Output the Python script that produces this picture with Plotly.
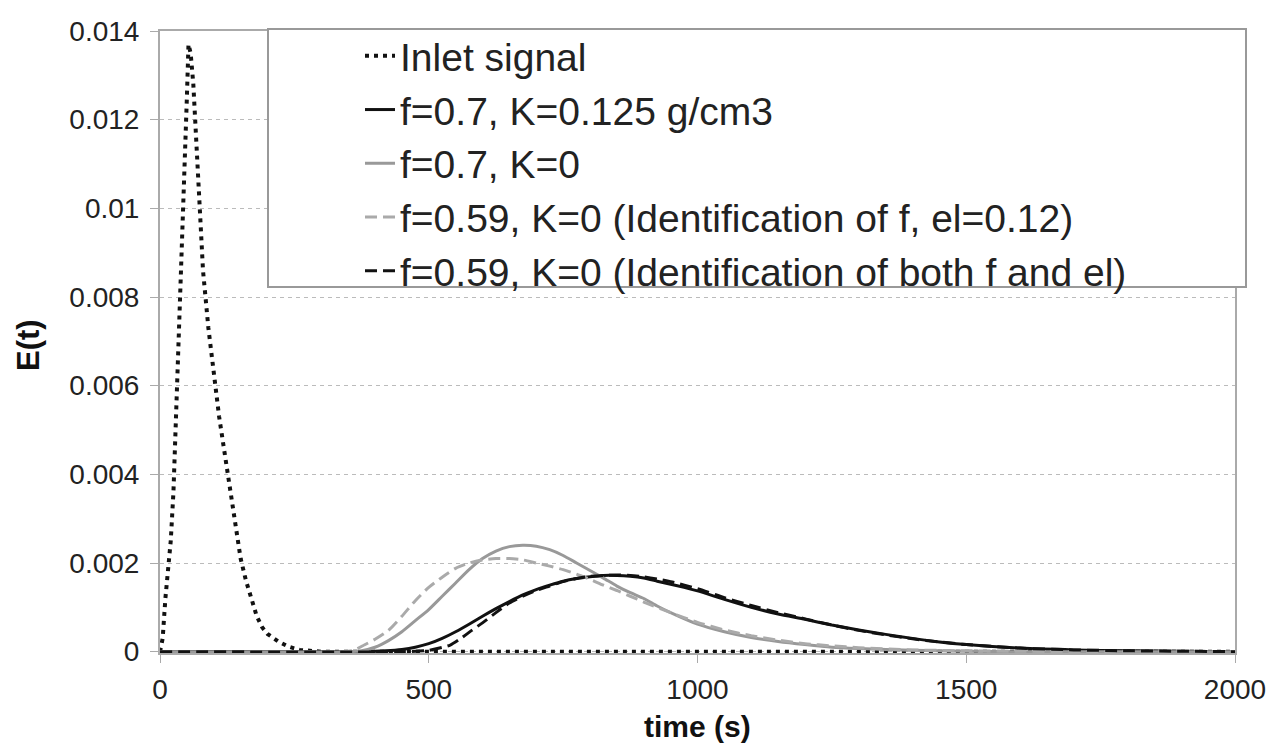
import plotly.graph_objects as go

# ---------------- data ----------------
inlet_t = [0, 5, 10, 15, 20, 25, 30, 35, 40, 45, 50, 53, 57, 62, 68, 73, 80, 90, 100, 110,
           120, 130, 140, 150, 160, 170, 180, 190, 200, 220, 240, 260, 280, 300, 400, 600,
           800, 1000, 1200, 1400, 1600, 1800, 2000]
inlet_e = [0, 0.0003, 0.0012, 0.0019, 0.0025, 0.0036, 0.0053, 0.0068, 0.0085, 0.0105, 0.0125,
           0.0137, 0.0135, 0.0128, 0.0115, 0.0103, 0.0086, 0.0073, 0.0062, 0.0053,
           0.0045, 0.0037, 0.0028, 0.0021, 0.0016, 0.0012, 0.0008, 0.00055, 0.0004, 0.00023,
           0.00011, 0.00004, 0.00001, 0, 0, 0, 0, 0, 0, 0, 0, 0, 0]

k125_t = [0, 380, 420, 450, 475, 500, 525, 550, 575, 600, 625, 650, 675, 700, 725, 750, 775,
          800, 825, 850, 875, 900, 925, 950, 975, 1000, 1050, 1100, 1150, 1200, 1250, 1300,
          1350, 1400, 1450, 1500, 1600, 1700, 1800, 1900, 2000]
k125_e = [0, 0, 0.00002, 0.00005, 0.0001, 0.00018, 0.0003, 0.00045, 0.00062, 0.0008, 0.00097,
          0.00113, 0.00128, 0.0014, 0.0015, 0.00159, 0.00165, 0.00169, 0.00172, 0.00172,
          0.0017, 0.00166, 0.00159, 0.00152, 0.00145, 0.00137, 0.00118, 0.001, 0.00085,
          0.00073, 0.0006, 0.00049, 0.00039, 0.0003, 0.00022, 0.00016, 0.00008, 0.00004,
          0.00002, 0.00001, 0]

k0_t = [0, 350, 375, 400, 425, 450, 475, 500, 525, 550, 575, 600, 625, 650, 675, 700, 725,
        750, 775, 800, 825, 850, 875, 900, 925, 950, 1000, 1050, 1100, 1150, 1200, 1250, 1300,
        1400, 1500, 1600, 2000]
k0_e = [0, 0, 0.00002, 0.0001, 0.00025, 0.00045, 0.0007, 0.00095, 0.00125, 0.00155, 0.00185,
        0.0021, 0.00227, 0.00237, 0.0024, 0.00238, 0.0023, 0.00217, 0.002, 0.00183, 0.00166,
        0.00148, 0.00133, 0.0012, 0.00103, 0.00088, 0.00062, 0.00045, 0.00032, 0.00023,
        0.00016, 0.0001, 0.00007, 0.00003, 0.00001, 0, 0]

f059_t = [0, 340, 360, 380, 400, 425, 450, 475, 500, 525, 550, 575, 600, 625, 650, 675, 700,
          725, 750, 775, 800, 825, 850, 875, 900, 950, 1000, 1050, 1100, 1150, 1200, 1250,
          1300, 1400, 1500, 1600, 1700, 2000]
f059_e = [0, 0, 0.00003, 0.00015, 0.00028, 0.00048, 0.0008, 0.00115, 0.00145, 0.00168, 0.00188,
          0.002, 0.00207, 0.0021, 0.0021, 0.00207, 0.002, 0.00193, 0.00185, 0.00175, 0.00163,
          0.0015, 0.00138, 0.00125, 0.00112, 0.00088, 0.00066, 0.00049, 0.00036, 0.00026,
          0.00018, 0.00013, 0.00009, 0.00004, 0.00002, 0.00001, 0, 0]

both_t = [0, 450, 500, 540, 560, 580, 600, 625, 650, 675, 700, 725, 750, 775, 800, 825, 850,
          875, 900, 925, 950, 1000, 1050, 1100, 1150, 1200, 1250, 1300, 1350, 1400, 1450, 1500,
          1600, 1700, 1800, 1900, 2000]
both_e = [0, 0, 0.00003, 0.00015, 0.0003, 0.00048, 0.00065, 0.00088, 0.0011, 0.00125, 0.00138,
          0.00148, 0.00158, 0.00165, 0.0017, 0.00172, 0.00173, 0.00172, 0.00169, 0.00164,
          0.00158, 0.00142, 0.00122, 0.00104, 0.00088, 0.00074, 0.0006, 0.00048, 0.00038,
          0.00029, 0.00022, 0.00016, 0.00008, 0.00004, 0.00002, 0.00001, 0]

names = ["Inlet signal",
         "f=0.7, K=0.125 g/cm3",
         "f=0.7, K=0",
         "f=0.59, K=0 (Identification of f, el=0.12)",
         "f=0.59, K=0 (Identification of both f and el)"]

y_tickvals = [0, 0.002, 0.004, 0.006, 0.008, 0.01, 0.012, 0.014]
y_ticktext = ["0", "0.002", "0.004", "0.006", "0.008", "0.01", "0.012", "0.014"]
x_tickvals = [0, 500, 1000, 1500, 2000]
x_ticktext = ["0", "500", "1000", "1500", "2000"]

# ---------------- figure ----------------
FONT = "Liberation Sans, Arial, sans-serif"
fig = go.Figure()

fig.add_trace(go.Scatter(x=inlet_t, y=inlet_e, mode="lines", name=names[0],
                         line=dict(color="#111111", width=4, dash="4px,5px")))
fig.add_trace(go.Scatter(x=k125_t, y=k125_e, mode="lines", name=names[1],
                         line=dict(color="#111111", width=3, shape="spline", smoothing=0.6)))
fig.add_trace(go.Scatter(x=k0_t, y=k0_e, mode="lines", name=names[2],
                         line=dict(color="#999999", width=3, shape="spline", smoothing=0.6)))
fig.add_trace(go.Scatter(x=f059_t, y=f059_e, mode="lines", name=names[3],
                         line=dict(color="#aaaaaa", width=3, dash="12px,6px",
                                   shape="spline", smoothing=0.6)))
fig.add_trace(go.Scatter(x=both_t, y=both_e, mode="lines", name=names[4],
                         line=dict(color="#111111", width=3, dash="12px,6px",
                                   shape="spline", smoothing=0.6)))

# page body has an 8px margin: the figure starts at (8, 8) in the window
OFF = 8
W, H = 1274 - OFF, 751 - OFF
L, R, T, B = 160 - OFF, 39, 31 - OFF, 98
pw, ph = W - L - R, H - T - B

def px_x(p):
    return (p - OFF - L) / pw

def px_y(p):
    return (H - B - (p - OFF)) / ph

fig.update_layout(
    width=W, height=H,
    margin=dict(l=L, r=R, t=T, b=B, pad=0, autoexpand=False),
    paper_bgcolor="white", plot_bgcolor="white",
    font=dict(family=FONT, color="#222222", size=28),
    showlegend=True,
    legend=dict(xref="container", yref="container",
                x=(360 - OFF) / W, y=1 - (24 - OFF) / H, xanchor="left", yanchor="top",
                bgcolor="rgba(0,0,0,0)", borderwidth=0,
                font=dict(family=FONT, size=39, color="#222222"),
                itemwidth=30, tracegroupgap=0),
    xaxis=dict(range=[0, 2000], tickvals=x_tickvals, ticktext=x_ticktext,
               showgrid=False, zeroline=False, showline=True, linecolor="#aaaaaa",
               linewidth=2, mirror=True, ticks="outside", ticklen=8, tickcolor="#aaaaaa",
               tickwidth=1, ticklabelstandoff=2, automargin=False,
               tickfont=dict(family=FONT, size=28, color="#222222")),
    yaxis=dict(range=[-0.00003, 0.014], tickvals=y_tickvals, ticktext=y_ticktext,
               showgrid=True, gridcolor="#bbbbbb", griddash="4px,4px", gridwidth=1,
               zeroline=False, showline=True, linecolor="#aaaaaa", linewidth=2,
               mirror=True, ticks="outside", ticklen=8, tickcolor="#aaaaaa", tickwidth=1,
               ticklabelstandoff=5, automargin=False,
               tickfont=dict(family=FONT, size=28, color="#222222")),
    shapes=[dict(type="rect", xref="paper", yref="paper",
                 x0=px_x(268), x1=px_x(1246), y0=px_y(287), y1=px_y(29),
                 line=dict(color="#999999", width=2), fillcolor="white", layer="above")],
    annotations=[
        dict(text="<b>time (s)</b>", xref="paper", yref="paper", x=0.5, y=px_y(726),
             xanchor="center", yanchor="middle", showarrow=False,
             font=dict(family=FONT, size=30, color="#111111")),
        dict(text="<b>E(t)</b>", xref="paper", yref="paper", x=px_x(28), y=px_y(345),
             xanchor="center", yanchor="middle", showarrow=False, textangle=-90,
             font=dict(family=FONT, size=31, color="#111111")),
    ],
)

fig.write_html("out.html")
